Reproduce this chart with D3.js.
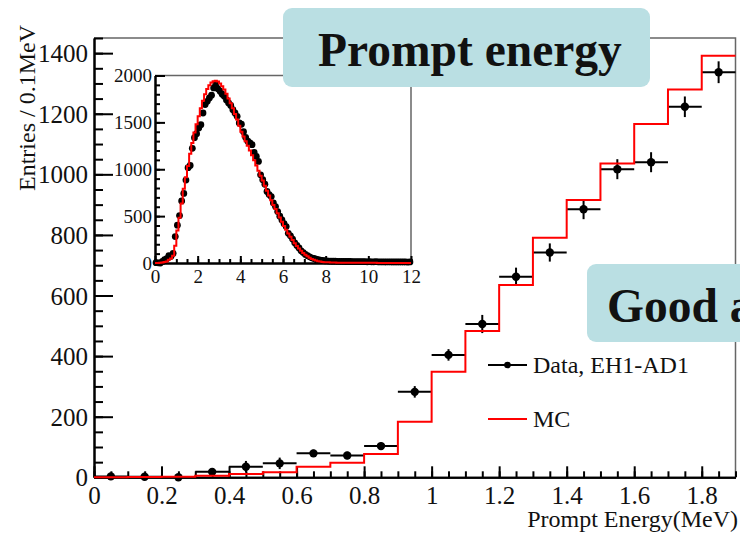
<!DOCTYPE html>
<html>
<head>
<meta charset="utf-8">
<script src="https://cdn.jsdelivr.net/npm/d3@7"></script>
<style>
  html, body { margin: 0; padding: 0; background: #fff; overflow: hidden; }
  svg { display: block; }
  text { font-family: "Liberation Serif", "Times New Roman", serif; fill: #111; }
</style>
</head>
<body>
<svg id="chart" width="740" height="534"></svg>
<script>
// Prompt energy spectrum, 0.1 MeV bins from 0 to 12 MeV (120 bins)
const binWidth = 0.1;

// Measured entries per bin (EH1-AD1)
const dataCounts = [
  3, 2, 0, 18, 35, 46, 79, 72, 103, 282,
  404, 506, 662, 742, 885, 1017, 1040, 1223, 1337, 1380,
  1440, 1476, 1600, 1690, 1725, 1761, 1790, 1868, 1904, 1860,
  1832, 1800, 1779, 1740, 1707, 1680, 1636, 1600, 1565, 1494,
  1480, 1400, 1340, 1300, 1280, 1262, 1180, 1137, 1084, 941,
  888, 840, 763, 730, 709, 640, 602, 549, 500, 460,
  420, 389, 317, 290, 255, 215, 188, 160, 130, 110,
  92, 78, 66, 55, 48, 40, 35, 30, 27, 24,
  22, 21, 20, 20, 19, 18, 18, 17, 17, 16,
  16, 16, 15, 15, 15, 14, 15, 14, 14, 13,
  14, 13, 13, 14, 13, 12, 13, 12, 12, 13,
  12, 12, 11, 12, 11, 12, 11, 11, 10, 11
];

// Statistical uncertainty on the low-energy bins shown in the main panel
const dataErrors = [
  5, 5, 6, 10, 19, 19, 12, 12, 12, 19,
  19, 30, 30, 30, 33, 33, 33, 34, 36
];

// Monte Carlo prediction per bin
const mcCounts = [
  0, 1, 2, 5, 11, 17, 35, 48, 77, 183,
  348, 483, 635, 791, 915, 1036, 1166, 1280, 1391, 1480,
  1565, 1650, 1730, 1800, 1855, 1895, 1925, 1940, 1945, 1935,
  1915, 1885, 1850, 1805, 1755, 1705, 1650, 1590, 1530, 1465,
  1400, 1350, 1300, 1250, 1200, 1150, 1095, 1040, 985, 930,
  880, 825, 770, 720, 670, 620, 575, 530, 485, 440,
  395, 355, 315, 280, 245, 212, 182, 155, 130, 108,
  88, 71, 56, 44, 34, 26, 20, 15, 12, 9,
  8, 7, 6, 5, 5, 4, 4, 4, 3, 3,
  3, 3, 3, 2, 2, 2, 2, 2, 2, 2,
  2, 2, 2, 2, 1, 1, 1, 1, 1, 1,
  1, 1, 1, 1, 1, 1, 1, 1, 1, 1
];

const mainXTicks = [0, 0.2, 0.4, 0.6, 0.8, 1, 1.2, 1.4, 1.6, 1.8];
const mainYTicks = [0, 200, 400, 600, 800, 1000, 1200, 1400];
const insetXTicks = [0, 2, 4, 6, 8, 10, 12];
const insetYTicks = [0, 500, 1000, 1500, 2000];

const legendLabels = ["Data, EH1-AD1", "MC"];
const titleText = "Prompt energy";
const noteText = "Good agreement";
const xTitle = "Prompt Energy(MeV)";
const yTitle = "Entries / 0.1MeV";

const bins = dataCounts.map((v, i) => ({
  lo: i * binWidth, hi: (i + 1) * binWidth, mid: (i + 0.5) * binWidth,
  data: v, mc: mcCounts[i], err: dataErrors[i] || 0
}));

const svg = d3.select("#chart");
const fmt = d => String(+d.toFixed(2));

// ---------- main panel ----------
const x = d3.scaleLinear().domain([0, 1.9]).range([94, 735.5]);
const y = d3.scaleLinear().domain([0, 1450]).range([477.3, 38]);
const mainBins = bins.filter(b => b.hi <= 1.9 + 1e-9);

// frame (top/right in grey)
svg.append("path")
  .attr("d", `M${x(0)},${y(1450)}H${x(1.9)}V${y(0)}`)
  .attr("fill", "none").attr("stroke", "#666").attr("stroke-width", 1.5);

function styleAxis(g) {
  g.select(".domain").attr("stroke", "#000").attr("stroke-width", 2);
  g.selectAll(".tick line").attr("stroke", "#000").attr("stroke-width", 2);
  g.selectAll("text").attr("fill", "#111");
}

// x axis: minor ticks every 0.05, major every 0.2
svg.append("g").attr("transform", `translate(0,${y(0)})`)
  .call(d3.axisBottom(x).tickValues(d3.range(0, 1.9001, 0.05)).tickSize(-6).tickSizeOuter(0).tickFormat(""))
  .call(styleAxis);
svg.append("g").attr("transform", `translate(0,${y(0)})`)
  .call(d3.axisBottom(x).tickValues(mainXTicks).tickSize(-11).tickSizeOuter(0).tickPadding(7).tickFormat(fmt))
  .call(styleAxis)
  .call(g => g.selectAll("text").attr("font-size", 25).attr("dy", "0.80em"));

// y axis: minor every 50, major every 200
svg.append("g").attr("transform", `translate(${x(0)},0)`)
  .call(d3.axisLeft(y).tickValues(d3.range(0, 1451, 50)).tickSize(-9).tickSizeOuter(0).tickFormat(""))
  .call(styleAxis);
svg.append("g").attr("transform", `translate(${x(0)},0)`)
  .call(d3.axisLeft(y).tickValues(mainYTicks).tickSize(-19).tickSizeOuter(0).tickPadding(6).tickFormat(fmt))
  .call(styleAxis)
  .call(g => g.selectAll("text").attr("font-size", 25).attr("dy", "0.34em"));

// axis titles
svg.append("text").attr("x", 738).attr("y", 527).attr("text-anchor", "end")
  .attr("font-size", 24).text(xTitle);
svg.append("text").attr("transform", "translate(35,25) rotate(-90)")
  .attr("text-anchor", "end").attr("font-size", 24).text(yTitle);

// data points with error bars
const dataG = svg.append("g");
dataG.selectAll("line.h").data(mainBins).join("line")
  .attr("x1", d => x(d.lo)).attr("x2", d => x(d.hi))
  .attr("y1", d => y(d.data)).attr("y2", d => y(d.data))
  .attr("stroke", "#000").attr("stroke-width", 2);
dataG.selectAll("line.v").data(mainBins).join("line")
  .attr("x1", d => x(d.mid)).attr("x2", d => x(d.mid))
  .attr("y1", d => y(d.data - d.err)).attr("y2", d => y(d.data + d.err))
  .attr("stroke", "#000").attr("stroke-width", 2);
dataG.selectAll("circle").data(mainBins).join("circle")
  .attr("cx", d => x(d.mid)).attr("cy", d => y(d.data)).attr("r", 4.2).attr("fill", "#000");

// MC step histogram
const stepPath = (bs, xs, ys) => {
  let p = `M${xs(bs[0].lo)},${ys(bs[0].mc)}`;
  bs.forEach((b, i) => {
    if (i > 0) p += `V${ys(b.mc)}`;
    p += `H${xs(b.hi)}`;
  });
  return p;
};
svg.append("path").attr("d", stepPath(mainBins, x, y))
  .attr("fill", "none").attr("stroke", "#f00").attr("stroke-width", 2);

// legend
const lg = svg.append("g");
lg.append("line").attr("x1", 488).attr("x2", 527).attr("y1", 365).attr("y2", 365)
  .attr("stroke", "#000").attr("stroke-width", 2);
lg.append("circle").attr("cx", 507.5).attr("cy", 365).attr("r", 3.3).attr("fill", "#000");
lg.append("text").attr("x", 533).attr("y", 373).attr("font-size", 24).text(legendLabels[0]);
lg.append("line").attr("x1", 488).attr("x2", 527).attr("y1", 419).attr("y2", 419)
  .attr("stroke", "#f00").attr("stroke-width", 2);
lg.append("text").attr("x", 533).attr("y", 427).attr("font-size", 24).text(legendLabels[1]);

// ---------- inset: full spectrum ----------
const xi = d3.scaleLinear().domain([0, 12]).range([155, 411]);
const yi = d3.scaleLinear().domain([0, 2000]).range([263, 75.5]);

svg.append("rect").attr("x", xi(0)).attr("y", yi(2000)).attr("width", xi(12) - xi(0))
  .attr("height", yi(0) - yi(2000)).attr("fill", "#fff");
svg.append("path")
  .attr("d", `M${xi(0)},${yi(2000)}H${xi(12)}V${yi(0)}`)
  .attr("fill", "none").attr("stroke", "#666").attr("stroke-width", 1.5);

svg.append("g").attr("transform", `translate(0,${yi(0)})`)
  .call(d3.axisBottom(xi).tickValues(d3.range(0, 12.01, 0.5)).tickSize(-4).tickSizeOuter(0).tickFormat(""))
  .call(styleAxis);
svg.append("g").attr("transform", `translate(0,${yi(0)})`)
  .call(d3.axisBottom(xi).tickValues(insetXTicks).tickSize(-7).tickSizeOuter(0).tickPadding(6).tickFormat(fmt))
  .call(styleAxis)
  .call(g => g.selectAll("text").attr("font-size", 19).attr("dy", "0.72em"));
svg.append("g").attr("transform", `translate(${xi(0)},0)`)
  .call(d3.axisLeft(yi).tickValues(d3.range(0, 2001, 100)).tickSize(-5).tickSizeOuter(0).tickFormat(""))
  .call(styleAxis);
svg.append("g").attr("transform", `translate(${xi(0)},0)`)
  .call(d3.axisLeft(yi).tickValues(insetYTicks).tickSize(-10).tickSizeOuter(0).tickPadding(3).tickFormat(fmt))
  .call(styleAxis)
  .call(g => g.selectAll("text").attr("font-size", 19).attr("dy", "0.34em"));

svg.append("g").selectAll("circle").data(bins).join("circle")
  .attr("cx", d => xi(d.mid)).attr("cy", d => yi(d.data)).attr("r", 3.4).attr("fill", "#000");
svg.append("path").attr("d", stepPath(bins, xi, yi))
  .attr("fill", "none").attr("stroke", "#f00").attr("stroke-width", 2);

// ---------- annotation boxes ----------
svg.append("rect").attr("x", 283).attr("y", 8).attr("width", 367).attr("height", 79)
  .attr("rx", 9).attr("fill", "#badfe3");
svg.append("text").attr("x", 318).attr("y", 66).attr("font-size", 47.5).attr("font-weight", "bold")
  .attr("fill", "#000").text(titleText);
svg.append("rect").attr("x", 587).attr("y", 264).attr("width", 200).attr("height", 78)
  .attr("rx", 9).attr("fill", "#badfe3");
svg.append("text").attr("x", 607).attr("y", 322).attr("font-size", 47.5).attr("font-weight", "bold")
  .attr("fill", "#000").text(noteText);
</script>
</body>
</html>
